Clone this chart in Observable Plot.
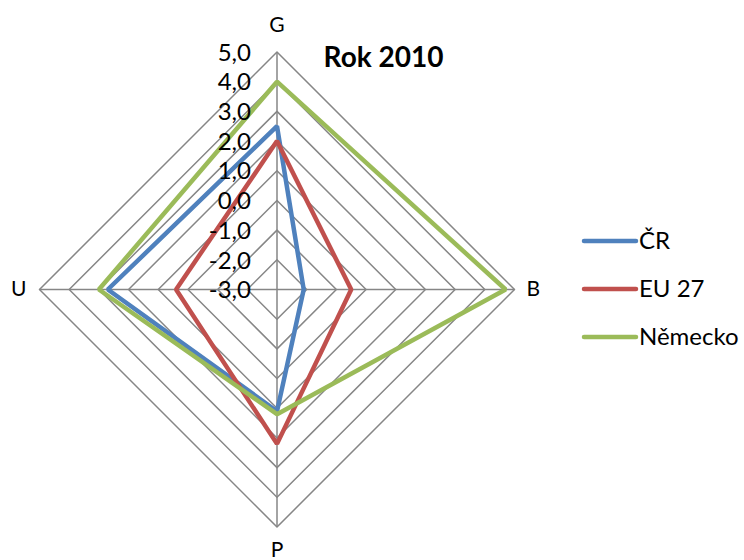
<!DOCTYPE html>
<html>
<head>
<meta charset="utf-8">
<script src="https://cdn.jsdelivr.net/npm/d3@7"></script>
<script src="https://cdn.jsdelivr.net/npm/@observablehq/plot@0.6"></script>
<style>
  body { margin: 0; background: #fff; }
  #chart svg { font-family: Lato, "Open Sans", sans-serif; }
</style>
</head>
<body>
<div id="chart"></div>
<script>
// Spokes of the radar, clockwise from the top
const axes = ["G", "B", "P", "U"];
// Series values per spoke (same order as axes)
const seriesNames = ["ČR", "EU 27", "Německo"];
const valuesCR = [2.5, -2.1, 1.1, 2.7];
const valuesEU = [2.0, -0.5, 2.2, 0.4];
const valuesDE = [4.0, 4.7, 1.2, 3.0];
const seriesColors = ["#4F81BD", "#C0504D", "#9BBB59"];
// Radial value axis
const ringTicks = [-3, -2, -1, 0, 1, 2, 3, 4, 5];
const title = "Rok 2010";

const rMin = ringTicks[0], rMax = ringTicks[ringTicks.length - 1];
const span = rMax - rMin;
const fmt = d3.formatLocale({decimal: ",", thousands: " ", grouping: [3], currency: ["", ""], minus: "-"}).format(".1f");

// polar -> cartesian, spoke i measured clockwise from the top
const toXY = (i, v) => {
  const a = (i / axes.length) * 2 * Math.PI;
  const r = v - rMin;
  return {x: r * Math.sin(a), y: r * Math.cos(a)};
};

const series = [valuesCR, valuesEU, valuesDE].flatMap((vals, s) =>
  vals.map((v, i) => ({series: seriesNames[s], axis: axes[i], value: v, ...toXY(i, v)}))
);

// grid rings (one closed diamond per tick above the centre)
const rings = ringTicks.slice(1).flatMap((t) =>
  axes.map((_, i) => ({ring: t, ...toXY(i, t)}))
);
const spokes = axes.map((name, i) => ({name, ...toXY(i, rMax)}));
const ringLabels = ringTicks.map((t) => ({label: fmt(t), ...toXY(0, t)}));

// pixel offsets of the spoke names from the spoke tips
const spokeLabelOffset = {
  G: {dx: 0, dy: -27, textAnchor: "middle"},
  B: {dx: 12, dy: 0, textAnchor: "start"},
  P: {dx: 0, dy: 23, textAnchor: "middle"},
  U: {dx: -13, dy: 0, textAnchor: "end"}
};

const cx = 276.5, cy = 289, R = 237.5;

const plot = Plot.plot({
  width: 744,
  height: 560,
  margin: 0,
  x: {domain: [-span, span], range: [cx - R, cx + R], axis: null},
  y: {domain: [-span, span], range: [cy + R, cy - R], axis: null},
  color: {domain: seriesNames, range: seriesColors},
  marks: [
    Plot.line(rings, {x: "x", y: "y", z: "ring", curve: "linear-closed", stroke: "#868686", strokeWidth: 1.5}),
    Plot.link(spokes, {x1: 0, y1: 0, x2: "x", y2: "y", stroke: "#868686", strokeWidth: 1.5}),
    Plot.line(series, {
      x: "x", y: "y", z: "series", curve: "linear-closed",
      stroke: "series", strokeWidth: 4.5, strokeLinejoin: "miter"
    }),
    Plot.text(ringLabels, {x: "x", y: "y", text: "label", textAnchor: "end", dx: -26, dy: 1, fontSize: 24, fill: "#000"}),
    ...spokes.map((s) =>
      Plot.text([s], {x: "x", y: "y", text: "name", fontSize: 21, fill: "#000", ...spokeLabelOffset[s.name]})
    ),
    Plot.text([title], {frameAnchor: "top-left", textAnchor: "middle", dx: 383, dy: 47, fontSize: 28, fontWeight: "bold", fill: "#000"})
  ]
});

// legend on the right of the radar
const svg = d3.select(plot);
const legend = svg.append("g").attr("text-anchor", "start");
seriesNames.forEach((name, i) => {
  const y = 241 + i * 48;
  legend.append("line")
    .attr("x1", 584).attr("x2", 636).attr("y1", y).attr("y2", y)
    .attr("stroke", seriesColors[i]).attr("stroke-width", 4.5).attr("stroke-linecap", "round");
  legend.append("text")
    .attr("x", 639).attr("y", y).attr("dy", "0.35em")
    .attr("font-size", 24).attr("fill", "#000").text(name);
});

document.getElementById("chart").append(plot);
</script>
</body>
</html>
